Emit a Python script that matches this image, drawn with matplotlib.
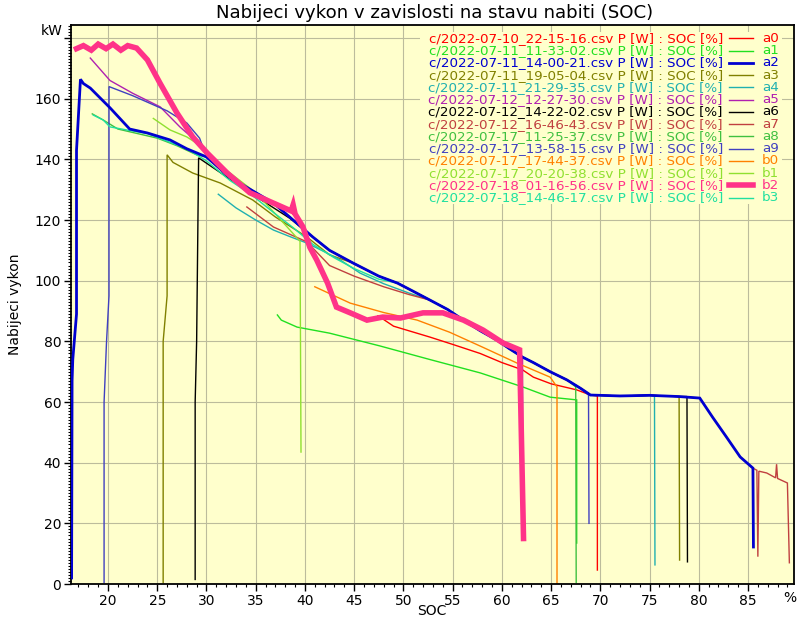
import matplotlib
matplotlib.use("Agg")
import matplotlib.pyplot as plt
from matplotlib.lines import Line2D
from matplotlib.patches import Rectangle
from matplotlib.ticker import MultipleLocator, FuncFormatter

# ---------------- data (SOC [%], power [kW]) ----------------
TITLE = "Nabijeci vykon v zavislosti na stavu nabiti (SOC)"
FILES = ["c/2022-07-10_22-15-16.csv", "c/2022-07-11_11-33-02.csv", "c/2022-07-11_14-00-21.csv",
         "c/2022-07-11_19-05-04.csv", "c/2022-07-11_21-29-35.csv", "c/2022-07-12_12-27-30.csv",
         "c/2022-07-12_14-22-02.csv", "c/2022-07-12_16-46-43.csv", "c/2022-07-17_11-25-37.csv",
         "c/2022-07-17_13-58-15.csv", "c/2022-07-17_17-44-37.csv", "c/2022-07-17_20-20-38.csv",
         "c/2022-07-18_01-16-56.csv", "c/2022-07-18_14-46-17.csv"]
KEYS = ["a0", "a1", "a2", "a3", "a4", "a5", "a6", "a7", "a8", "a9", "b0", "b1", "b2", "b3"]

# shared main band that most sessions follow
CL_S = [30.0, 32.4, 34.5, 36.8, 38.8, 40.8, 42.5, 44.9, 47.5, 49.4, 51.0, 52.7, 54.5, 56.1,
        57.8, 59.5, 60.8, 62.1, 63.2, 64.9, 66.6, 68.0, 69.0, 72.0, 75.0, 78.0, 80.1, 81.4,
        82.8, 84.2, 85.5]
CL_P = [140.8, 134.0, 130.0, 125.6, 120.0, 114.4, 110.0, 105.8, 101.5, 99.2, 96.5, 93.6, 90.5, 87.0,
        83.5, 80.4, 77.5, 74.8, 73.0, 70.0, 67.3, 64.5, 62.3, 62.0, 62.2, 61.8, 61.3, 55.0,
        48.5, 41.9, 38.2]

A0_S = [47.3, 47.4, 49.0, 52.7, 55.0, 57.8, 60.0, 62.1, 63.2, 65.0, 67.6, 69.0, 69.7, 69.7]
A0_P = [87.5, 88.5, 85.0, 81.4, 79.0, 76.0, 73.0, 70.6, 68.2, 66.0, 64.0, 62.3, 62.0, 4.6]

A1_S = [37.2, 37.6, 39.2, 42.5, 47.6, 52.7, 57.8, 62.1, 64.9, 67.6, 67.6]
A1_P = [88.7, 87.0, 84.7, 82.7, 78.5, 74.0, 69.6, 65.0, 61.6, 60.7, 13.5]

A2_START_S = [16.3, 16.35, 16.42, 16.8, 16.8, 17.2, 17.5, 18.2, 20.2, 22.2, 24.0, 26.3, 28.0]
A2_START_P = [2.0, 67.0, 74.0, 89.0, 143.0, 166.4, 165.0, 163.5, 157.0, 150.0, 148.7, 146.4, 143.5]
A2_END_S = [85.55]
A2_END_P = [12.2]

A3_START_S = [25.6, 25.6, 26.0, 26.0, 26.6, 28.6, 31.4, 34.7, 37.0, 40.2, 42.5]
A3_START_P = [0.5, 80.0, 95.0, 141.5, 139.0, 135.5, 132.2, 126.6, 121.0, 114.4, 108.5]
A3_END_S = [78.05]
A3_END_P = [7.9]

A4_START_S = [31.2, 33.0, 35.0, 36.8, 38.5, 40.2, 42.0, 43.6, 45.6, 48.0, 50.5]
A4_START_P = [128.5, 124.0, 120.0, 116.7, 114.5, 112.4, 109.5, 106.8, 102.5, 99.0, 96.0]
A4_END_S = [75.5, 75.55]
A4_END_P = [62.0, 6.3]

A5_START_S = [18.2, 20.2, 22.5, 25.3, 27.3, 29.3, 31.0]
A5_START_P = [173.4, 166.0, 161.8, 157.3, 150.7, 145.0, 139.0]
A5_END_S = [62.15]
A5_END_P = [20.0]

A6_START_S = [28.85, 28.85, 29.0, 29.2, 31.7, 35.1, 38.5]
A6_START_P = [1.5, 60.0, 80.0, 140.5, 135.0, 127.6, 120.5]
A6_END_S = [78.8, 78.85]
A6_END_P = [61.8, 7.3]

A7_START_S = [34.1, 36.8, 40.2, 42.5, 45.0, 48.0, 50.5]
A7_START_P = [124.3, 117.7, 112.8, 105.0, 101.5, 98.0, 95.5]
A7_END_S = [85.9, 86.0, 86.1, 86.9, 87.8, 87.9, 88.0, 89.0, 89.2]
A7_END_P = [37.5, 9.0, 37.2, 36.6, 35.0, 39.5, 34.8, 33.3, 7.0]

A8_START_S = [18.4, 19.5, 21.0, 23.0, 25.0, 27.0, 29.0]
A8_START_P = [155.0, 153.0, 150.0, 148.5, 147.0, 144.5, 141.5]
A8_END_S = [67.5, 67.55]
A8_END_P = [65.0, 0.5]

A9_START_S = [19.6, 19.6, 19.85, 20.1, 20.1, 22.5, 26.0, 28.0, 29.3]
A9_START_P = [0.5, 60.0, 80.0, 95.0, 164.0, 161.0, 156.0, 152.0, 147.0]
A9_END_S = [68.8, 68.85]
A9_END_P = [62.3, 20.0]

B0_S = [41.0, 42.0, 44.6, 48.0, 51.4, 54.7, 58.1, 61.5, 64.9, 65.6, 65.6]
B0_P = [98.0, 96.5, 92.6, 89.5, 87.0, 83.0, 78.0, 72.9, 68.2, 65.0, 0.3]

B1_S = [24.6, 26.3, 28.0, 29.3, 31.0, 33.0, 35.0, 37.0, 39.5, 39.6]
B1_P = [153.5, 149.7, 147.4, 144.7, 139.0, 134.0, 129.0, 122.0, 113.0, 43.5]

B2_S = [16.8, 17.5, 18.3, 19.0, 19.8, 20.5, 21.3, 22.0, 22.9, 24.0, 25.3, 27.0, 28.6, 30.1,
        32.1, 34.4, 36.5, 38.6, 38.8, 39.0, 39.8, 40.5, 41.2, 42.3, 43.2, 44.6, 46.3, 47.9,
        49.7, 52.0, 54.0, 56.1, 58.1, 60.1, 61.8, 62.2]
B2_P = [176.5, 177.5, 176.0, 178.0, 176.5, 178.0, 176.0, 177.5, 176.7, 172.8, 165.0, 155.3, 147.4, 142.0,
        135.5, 129.0, 126.0, 123.0, 125.0, 122.0, 117.7, 111.0, 106.8, 99.2, 91.3, 89.4, 87.0, 88.0,
        87.7, 89.4, 89.4, 87.0, 83.7, 79.5, 77.2, 15.0]

B3_START_S = [18.5, 19.5, 20.2, 21.9, 24.0, 26.0, 28.0, 30.0, 32.4, 34.5, 36.8, 38.8, 40.8, 43.0,
              45.0, 47.5]
B3_START_P = [154.6, 153.0, 150.7, 149.7, 148.5, 146.0, 143.5, 139.5, 133.0, 128.5, 122.5, 117.5, 112.0,
              107.5, 104.0, 100.5]

COLORS = ["#ff0000", "#20e020", "#0000d0", "#808000", "#20b0b0", "#b020b0", "#000000",
          "#c04040", "#40c040", "#4040c0", "#ff8000", "#90e030", "#ff3388", "#20e0a0"]
WIDTHS = [1.0, 1.0, 2.0, 1.0, 1.0, 1.0, 1.0, 1.0, 1.0, 1.0, 1.0, 1.0, 4.0, 1.0]


def band(lo, hi):
    pts = [(s, p) for s, p in zip(CL_S, CL_P) if lo <= s <= hi]
    return [a for a, _ in pts], [b for _, b in pts]


def build(start_s, start_p, lo, hi, end_s, end_p):
    bs, bp = band(lo, hi)
    return start_s + bs + end_s, start_p + bp + end_p


SERIES = [
    (A0_S, A0_P),
    (A1_S, A1_P),
    build(A2_START_S, A2_START_P, 30.0, 85.5, A2_END_S, A2_END_P),
    build(A3_START_S, A3_START_P, 44.9, 78.0, A3_END_S, A3_END_P),
    build(A4_START_S, A4_START_P, 52.7, 75.0, A4_END_S, A4_END_P),
    build(A5_START_S, A5_START_P, 32.4, 62.1, A5_END_S, A5_END_P),
    build(A6_START_S, A6_START_P, 40.8, 78.0, A6_END_S, A6_END_P),
    build(A7_START_S, A7_START_P, 52.7, 85.5, A7_END_S, A7_END_P),
    build(A8_START_S, A8_START_P, 30.0, 66.6, A8_END_S, A8_END_P),
    build(A9_START_S, A9_START_P, 30.0, 68.0, A9_END_S, A9_END_P),
    (B0_S, B0_P),
    (B1_S, B1_P),
    (B2_S, B2_P),
    build(B3_START_S, B3_START_P, 49.4, 64.9, [], []),
]

# ---------------- figure ----------------
W, H = 800, 628
BG = "#ffffcc"
plt.rcParams["font.family"] = ["DejaVu Sans"]
fig = plt.figure(figsize=(W / 100, H / 100), dpi=100)
L, R, T, B = 71, 794, 25, 584
ax = fig.add_axes([L / W, 1 - B / H, (R - L) / W, (B - T) / H])
ax.set_facecolor(BG)
ax.set_xlim(16.24, 89.67)
ax.set_ylim(0, 184.3)

ax.set_axisbelow(True)
ax.grid(True, which="major", color="#bcbc9c", lw=0.8)
ax.xaxis.set_major_locator(MultipleLocator(5))
ax.xaxis.set_minor_locator(MultipleLocator(1))
ax.yaxis.set_major_locator(MultipleLocator(20))
ax.yaxis.set_minor_locator(MultipleLocator(1))
ax.yaxis.set_major_formatter(FuncFormatter(lambda v, p: "" if v > 170 else f"{v:.0f}"))
ax.tick_params(which="major", direction="out", length=5, width=1.0, labelsize=10, pad=2)
ax.tick_params(which="minor", direction="out", length=2.5, width=0.8)
ax.tick_params(top=False, right=False)
for sp in ax.spines.values():
    sp.set_linewidth(1.3)

for i, (s, p) in enumerate(SERIES):
    z = 3 if i in (2, 12) else 2
    ax.plot(s, p, color=COLORS[i], lw=WIDTHS[i], solid_joinstyle="miter", zorder=z)

# texts
fig.text(435 / W, 1 - 13 / H, TITLE, ha="center", va="center", fontsize=13.1)
fig.text(432 / W, 1 - 611 / H, "SOC", ha="center", va="center", fontsize=10)
fig.text(15 / W, 1 - 304 / H, "Nabijeci vykon", ha="center", va="center", rotation=90, fontsize=10)
fig.text(63 / W, 1 - 31 / H, "kW", ha="right", va="center", fontsize=10)
fig.text(790 / W, 1 - 598 / H, "%", ha="center", va="center", fontsize=10)

# legend (gnuplot style)
ax.add_patch(Rectangle((420 / W, 1 - 204 / H), 362 / W, 172 / H, transform=fig.transFigure,
                       facecolor=BG, edgecolor="none", zorder=4, clip_on=False))
for i, f in enumerate(FILES):
    y = 1 - (38.3 + i * 12.26) / H
    ax.text(723 / W, y, f + " P [W] : SOC [%]", transform=fig.transFigure, ha="right", va="center",
            color=COLORS[i], fontsize=9.7, zorder=5)
    ax.add_line(Line2D([729 / W, 753 / W], [y, y], transform=fig.transFigure, color=COLORS[i],
                       lw=WIDTHS[i], zorder=5, clip_on=False))
    ax.text(762 / W, y, KEYS[i], transform=fig.transFigure, ha="left", va="center",
            color=COLORS[i], fontsize=9.7, zorder=5)

fig.savefig("out.png", dpi=100)
